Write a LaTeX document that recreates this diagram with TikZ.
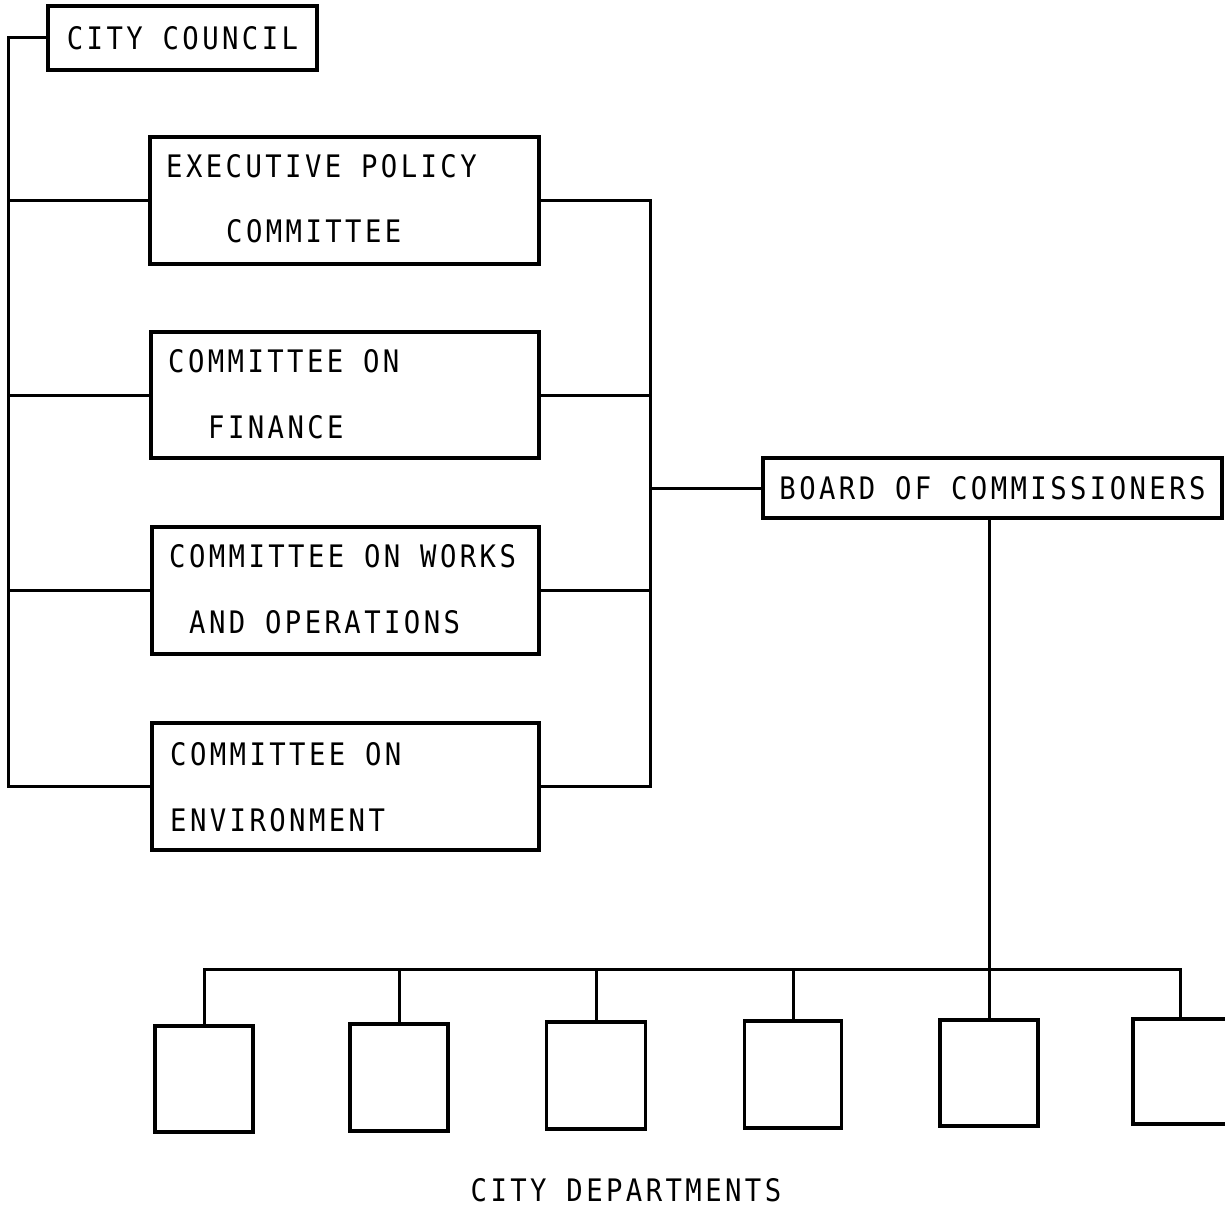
\documentclass[tikz,border=0pt]{standalone}
\usepackage{fontspec}
\newfontfamily\orgfont{DejaVu Sans Mono}[FakeStretch=0.88,LetterSpace=11]
\begin{document}
\begin{tikzpicture}[x=1pt,y=-1pt,
  box/.style={draw, line width=3.2, rectangle, inner sep=0pt},
  txt/.style={font=\orgfont\fontsize{31}{32}\selectfont, inner sep=0pt},
  conn/.style={line width=3}]
\clip (0,0) rectangle (1225,1207);
\fill[white] (0,0) rectangle (1225,1207);
% top box
\node[box, txt, minimum width=269, minimum height=64] (cc) at (182.5,38) {CITY COUNCIL};
% committee boxes
\node[box, minimum width=389, minimum height=127] (epc) at (344.5,200.5) {};
\node[box, minimum width=388, minimum height=126] (fin) at (345,395) {};
\node[box, minimum width=387, minimum height=127] (wks) at (345.5,590.5) {};
\node[box, minimum width=387, minimum height=127] (env) at (345.5,786.5) {};
\node[txt, anchor=base west] (epc1) at (166,177) {EXECUTIVE POLICY};
\node[txt, anchor=base west] (epc2) at (226,242) {COMMITTEE};
\node[txt, anchor=base west] (fin1) at (168,372) {COMMITTEE ON};
\node[txt, anchor=base west] (fin2) at (208,438) {FINANCE};
\node[txt, anchor=base west] (wks1) at (169,567) {COMMITTEE ON WORKS};
\node[txt, anchor=base west] (wks2) at (189,633) {AND OPERATIONS};
\node[txt, anchor=base west] (env1) at (170,765) {COMMITTEE ON};
\node[txt, anchor=base west] (env2) at (170,831) {ENVIRONMENT};
% board
\node[box, txt, minimum width=459, minimum height=60] (board) at (992.5,488) {BOARD OF COMMISSIONERS};
% departments
\node[box, minimum width=98, minimum height=106] (d1) at (204,1079) {};
\node[box, minimum width=98, minimum height=107] (d2) at (399,1077.5) {};
\node[box, minimum width=99, minimum height=107] (d3) at (596,1075.5) {};
\node[box, minimum width=97, minimum height=107] (d4) at (793,1074.5) {};
\node[box, minimum width=98, minimum height=106] (d5) at (989,1073) {};
\node[box, minimum width=94, minimum height=105] (d6) at (1180,1071.5) {};
\node[txt, anchor=base] (cd) at (626,1201) {CITY DEPARTMENTS};
% buses
\coordinate (lbus) at (8,0);
\coordinate (rbus) at (650,0);
\coordinate (dbus) at (0,969);
% left bus
\draw[conn] (cc.west) -| (env.west -| lbus) -- (env.west);
\draw[conn] (epc.west) -- (epc.west -| lbus);
\draw[conn] (fin.west) -- (fin.west -| lbus);
\draw[conn] (wks.west) -- (wks.west -| lbus);
% right bus
\draw[conn] (epc.east) -| (env.east -| rbus) -- (env.east);
\draw[conn] (fin.east) -- (fin.east -| rbus);
\draw[conn] (wks.east) -- (wks.east -| rbus);
\draw[conn] (board.west) -- (board.west -| rbus);
% board to departments
\draw[conn] (d5.north |- board.south) -- (d5.north);
\draw[conn] (d1.north) -- (d1.north |- dbus) -- (d6.north |- dbus) -- (d6.north);
\draw[conn] (d2.north) -- (d2.north |- dbus);
\draw[conn] (d3.north) -- (d3.north |- dbus);
\draw[conn] (d4.north) -- (d4.north |- dbus);
\end{tikzpicture}
\end{document}
